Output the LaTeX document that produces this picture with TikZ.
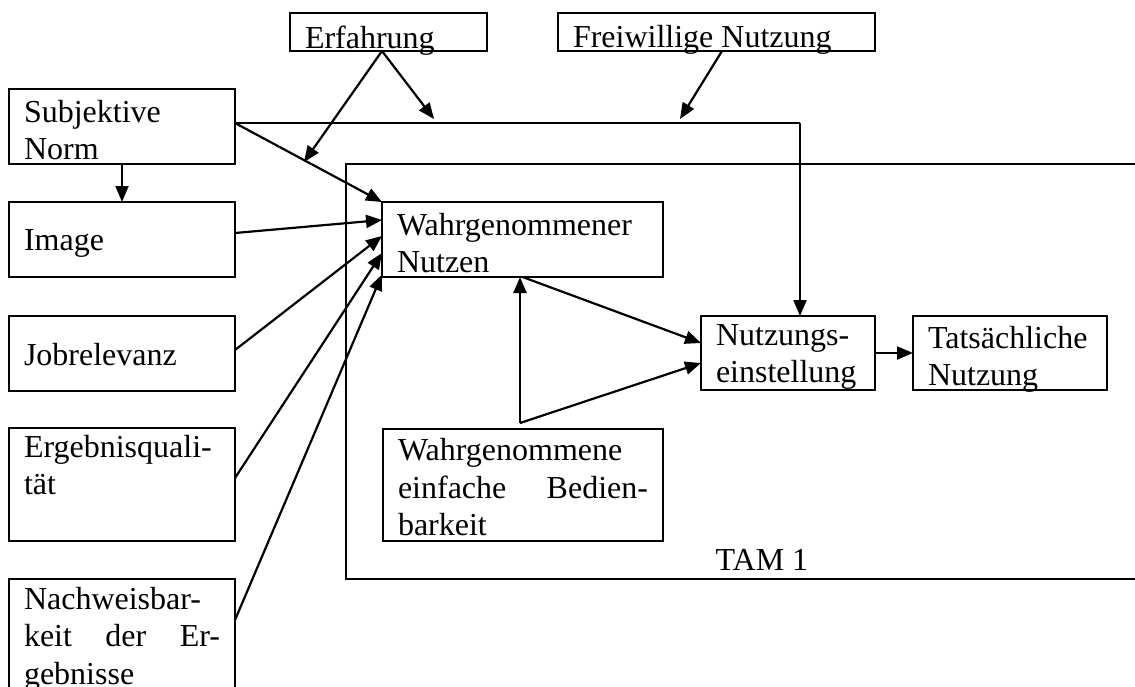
\documentclass[tikz,border=0pt]{standalone}
\usepackage{fontspec}
\setmainfont{Liberation Serif}
\usetikzlibrary{arrows.meta,calc}
\newcommand\bxt[4]{\parbox[c][#2pt][t]{#1pt}{\vspace*{#3pt}\raggedright #4}}
\newcommand\jl[1]{\hbox to\linewidth{#1}}
\begin{document}
\begin{tikzpicture}[x=1pt,y=-1pt,
  box/.style={draw,line width=2pt,inner xsep=15pt,inner ysep=0pt,outer sep=0pt,anchor=north west,font=\fontsize{32pt}{37.5pt}\selectfont},
  conn/.style={line width=2.2pt,-{Triangle[length=16pt,width=13pt]}},
  thinline/.style={line width=1.2pt},
  frame/.style={line width=2pt}]
\useasboundingbox (0,0) rectangle (1135,686);
\fill[white] (0,0) rectangle (1135,686);
\clip (0,0) rectangle (1135,686);

% top boxes
\node[box] (erf) at (290,13) {\bxt{167}{38}{12.5}{Erfahrung}};
\node[box] (frei) at (558,13) {\bxt{287}{38}{12.5}{Freiwillige Nutzung}};

% left column
\node[box] (sn) at (9,89) {\bxt{196}{75}{11}{Subjektive\par Norm}};
\node[box] (img) at (9,202) {\bxt{196}{75}{27.5}{Image}};
\node[box] (job) at (9,316) {\bxt{196}{75}{27}{Jobrelevanz}};
\node[box] (erg) at (9,428) {\bxt{196}{113}{7}{Ergebnisquali-\par t\"at}};
\node[box] (nach) at (9,579) {\bxt{196}{125}{8}{Nachweisbar-\par\jl{keit\hfill der\hfill Er-}\par gebnisse}};

% TAM frame
\draw[frame] (1150,164) -- (346,164) -- (346,579) -- (1150,579);
\node[font=\fontsize{32pt}{37.5pt}\selectfont,anchor=base,inner sep=0pt] (tam) at (762,570) {TAM 1};

% TAM boxes
\node[box] (wn) at (382,202) {\bxt{251}{75}{11}{Wahrgenommener\par Nutzen}};
\node[box] (ne) at (701,316) {\bxt{144}{74}{8.5}{Nutzungs-\par einstellung}};
\node[box] (tn) at (913,316) {\bxt{164}{74}{10}{Tats\"achliche\par Nutzung}};
\node[box] (web) at (383,429) {\bxt{250}{112}{9.5}{Wahrgenommene\par\jl{einfache\hfill Bedien-}\par barkeit}};

% helper coordinates
\coordinate (snp) at ([yshift=3.5pt]sn.east);
\coordinate (corner) at (800,123);
\coordinate (p1) at (304,162);
\coordinate (p2) at (434,119);
\coordinate (p3) at (680,119);
\coordinate (apex) at ([xshift=-3pt,yshift=6pt]web.north);

% connectors
\draw[thinline] (snp) -- (corner);
\draw[conn] (corner) -- (corner |- ne.north);
\draw[conn] (snp) -- (wn.north west);
\draw[conn] (sn.south) -- (img.north);
\draw[conn] ([xshift=-6.5pt]erf.south) -- (p1);
\draw[conn] ([xshift=-6.5pt]erf.south) -- (p2);
\draw[conn] ([xshift=5.5pt]frei.south) -- (p3);
\draw[conn] ([yshift=6.5pt]img.east) -- ([yshift=19.5pt]wn.west);
\draw[conn] ([yshift=3.5pt]job.east) -- ([yshift=3.5pt]wn.west);
\draw[conn] ([yshift=6.5pt]erg.east) -- ([yshift=-13.5pt]wn.west);
\draw[conn] ([yshift=21.5pt]nach.east) -- ([yshift=-35pt]wn.west);
\draw[conn] (apex) -- ([xshift=-2.5pt]wn.south);
\draw[conn] (wn.south) -- ([yshift=10pt]ne.west);
\draw[conn] (apex) -- ([yshift=-10pt]ne.west);
\draw[conn] (ne.east) -- (tn.west);
\end{tikzpicture}
\end{document}
